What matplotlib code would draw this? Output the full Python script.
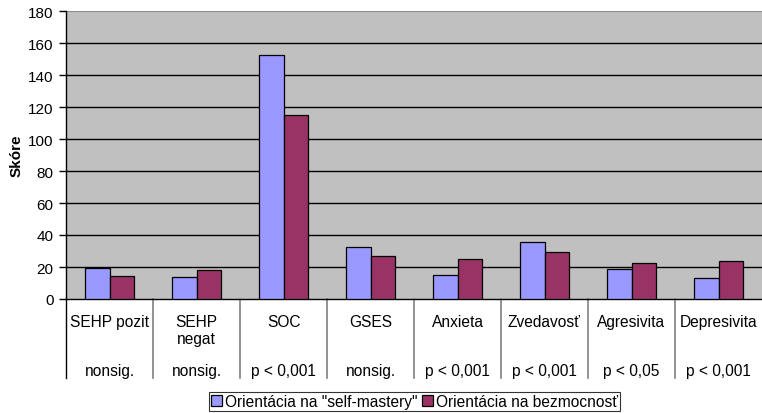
import matplotlib
matplotlib.use("Agg")
import matplotlib.pyplot as plt
import numpy as np
from matplotlib.patches import Patch

plt.rcParams['font.family'] = ['Liberation Sans', 'DejaVu Sans']

categories = ["SEHP pozit", "SEHP\nnegat", "SOC", "GSES", "Anxieta",
              "Zvedavosť", "Agresivita", "Depresivita"]
significance = ["nonsig.", "nonsig.", "p < 0,001", "nonsig.", "p < 0,001",
                "p < 0,001", "p < 0,05", "p < 0,001"]
series_names = ['Orientácia na "self-mastery"', 'Orientácia na bezmocnosť']
self_mastery = [19.4, 13.8, 152.7, 32.7, 15.0, 35.4, 18.7, 13.3]
helplessness = [14.2, 17.9, 115.0, 26.7, 25.0, 29.2, 22.5, 23.5]
y_ticks = [0, 20, 40, 60, 80, 100, 120, 140, 160, 180]

W, H = 762, 414
fig = plt.figure(figsize=(W / 100, H / 100), dpi=100)
left_px, right_px, top_px, bottom_px = 66, 762, 12, 300
ax = fig.add_axes([left_px / W, 1 - bottom_px / H,
                   (right_px - left_px) / W, (bottom_px - top_px) / H])

ax.set_facecolor('#C0C0C0')
x = np.arange(len(categories))
bw = 0.287
ax.bar(x - bw / 2, self_mastery, bw, color='#9999FF', edgecolor='black',
       linewidth=0.9, zorder=3)
ax.bar(x + bw / 2, helplessness, bw, color='#993366', edgecolor='black',
       linewidth=0.9, zorder=3)

ax.set_xlim(-0.5, len(categories) - 0.5)
ax.set_ylim(0, 180)
ax.set_yticks(y_ticks)
ax.tick_params(axis='y', labelsize=11, length=5, width=1, direction='out', pad=4)
ax.set_xticks([])
for yv in y_ticks[1:-1]:
    ax.axhline(yv, color='black', linewidth=1, zorder=1)
ax.axhline(180, color='#808080', linewidth=1.2, zorder=1)

for s in ['top', 'right']:
    ax.spines[s].set_visible(False)
ax.spines['left'].set_color('black')
ax.spines['bottom'].set_color('black')
ax.spines['left'].set_linewidth(1)
ax.spines['bottom'].set_linewidth(1)

ax.set_ylabel('Skóre', fontsize=11, fontweight='bold', labelpad=3)

# table of category names and significance below the axis
trans = ax.get_xaxis_transform()
ax_h = bottom_px - top_px
def yfrac(py):
    return (bottom_px - py) / ax_h

line_bottom = yfrac(379)
ax.plot([-0.5, -0.5], [0, line_bottom], color='black', lw=1,
        transform=trans, clip_on=False)
for b in np.arange(0.5, len(categories) - 0.5, 1.0):
    ax.plot([b, b], [0, line_bottom], color='#808080', lw=1.2,
            transform=trans, clip_on=False)

for xi, (cat, sig) in enumerate(zip(categories, significance)):
    ax.text(xi, yfrac(315), cat, transform=trans, ha='center', va='top',
            fontsize=11.2, linespacing=1.2, clip_on=False)
    ax.text(xi, yfrac(372), sig, transform=trans, ha='center', va='center',
            fontsize=11.2, clip_on=False)

handles = [Patch(facecolor='#9999FF', edgecolor='black', linewidth=0.9),
           Patch(facecolor='#993366', edgecolor='black', linewidth=0.9)]
leg = fig.legend(handles, series_names, loc='center',
                 bbox_to_anchor=(414.5 / W, 1 - 402.5 / H), ncol=2,
                 fontsize=11.2, frameon=True, fancybox=False,
                 handlelength=0.7, handleheight=0.7, handletextpad=0.2,
                 columnspacing=0.25, borderpad=0.15, borderaxespad=0)
leg.get_frame().set_edgecolor('black')
leg.get_frame().set_linewidth(0.8)

fig.savefig('out.png', dpi=100)
